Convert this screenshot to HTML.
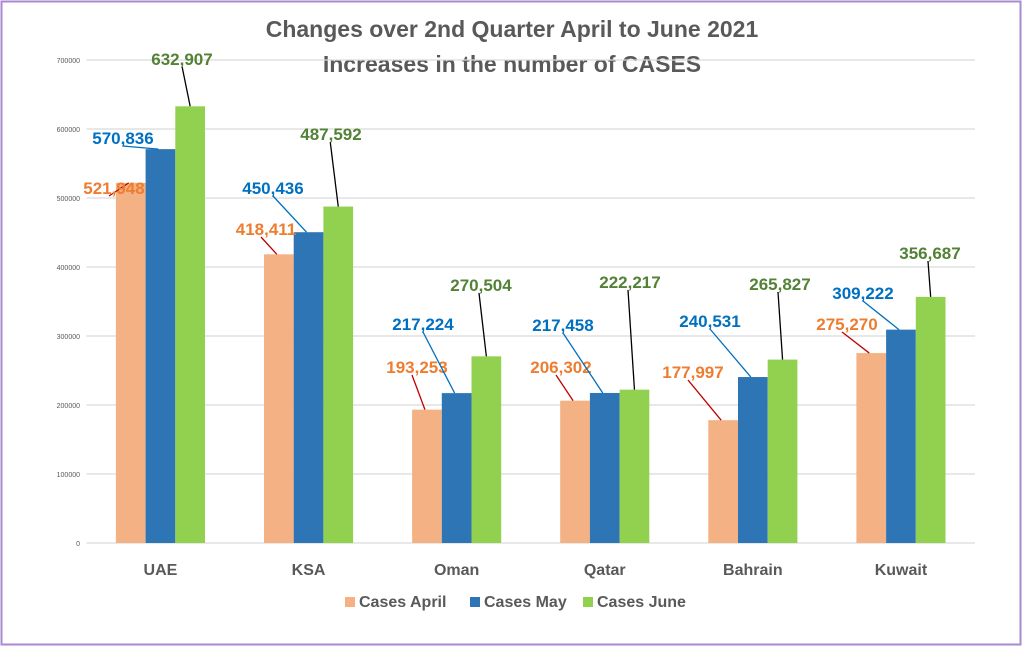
<!DOCTYPE html>
<html><head><meta charset="utf-8"><style>
body{margin:0;background:#fff;}
svg{display:block;font-family:"Liberation Sans",sans-serif;}
</style></head><body>
<svg id="chart" width="1024" height="649" viewBox="0 0 1024 649">
<rect x="1.5" y="1.5" width="1019" height="643" fill="#fff" stroke="#a989cf" stroke-width="2"/>
<text x="512" y="37" text-anchor="middle" font-size="23" font-weight="bold" fill="#595959">Changes over  2nd Quarter  April to June 2021</text>
<text x="512" y="72" text-anchor="middle" font-size="23" font-weight="bold" fill="#595959">Increases in the number of CASES</text>
<g id="grid"></g><g id="bars"></g><g id="labels"></g>
<g>
<rect x="345" y="597" width="10" height="10" fill="#F4B183"/>
<text x="359" y="607" font-size="16" font-weight="bold" fill="#595959">Cases April</text>
<rect x="470" y="597" width="10" height="10" fill="#2E75B6"/>
<text x="484" y="607" font-size="16" font-weight="bold" fill="#595959">Cases May</text>
<rect x="583" y="597" width="10" height="10" fill="#92D050"/>
<text x="597" y="607" font-size="16" font-weight="bold" fill="#595959">Cases June</text>
</g>
</svg>
<script>
const categories=["UAE","KSA","Oman","Qatar","Bahrain","Kuwait"];
const casesApril=[521948,418411,193253,206302,177997,275270];
const casesMay=[570836,450436,217224,217458,240531,309222];
const casesJune=[632907,487592,270504,222217,265827,356687];
const yTicks=[0,100000,200000,300000,400000,500000,600000,700000];
const labelPos=[
 [[114,187],[123,137],[182,58]],
 [[266,228],[273,187],[331,133]],
 [[417,366],[423,323],[481,284]],
 [[561,366],[563,324],[630,281]],
 [[693,371],[710,320],[780,283]],
 [[847,323],[863,292],[930,252]]
];
const NS="http://www.w3.org/2000/svg";
const L=86.4,R=975,T=60,B=543,yMax=700000;
const y=v=>B-(v/yMax)*(B-T);
const bandW=(R-L)/categories.length, barW=29.7;
const x=(i,s)=>L+bandW*i+(bandW-3*barW)/2+s*barW;
function mk(tag,attrs,parent){const e=document.createElementNS(NS,tag);for(const k in attrs)e.setAttribute(k,attrs[k]);parent.appendChild(e);return e;}
const grid=document.getElementById('grid'),bars=document.getElementById('bars'),labels=document.getElementById('labels');
yTicks.forEach(t=>{
 const ln=mk('line',{x1:L,x2:R,y1:y(t),y2:y(t),stroke:'#d9d9d9','stroke-width':1.3},grid);
 
 
 const tx=mk('text',{x:80,y:y(t)+3,'text-anchor':'end','font-size':7,fill:'#595959'},grid);
 tx.textContent=t;
 
 
});
const series=[casesApril,casesMay,casesJune];
const fills=["#F4B183","#2E75B6","#92D050"];
const tcol=["#ED7D31","#0070C0","#538135"];
const lcol=["#C00000","#0070C0","#000000"];
const sname=["april","may","june"];
categories.forEach((c,i)=>{
 series.forEach((arr,s)=>{
  const v=arr[i];
  const r=mk('rect',{x:x(i,s),y:y(v),width:barW,height:B-y(v),fill:fills[s]},bars);
  
  
  const [lx,ly]=labelPos[i][s];
  const cx=x(i,s)+barW/2, top=y(v);
  const sx = s===2 ? cx-8 : lx + (s===0?0:-2);
  const ln=mk('line',{x1:s===2?Math.max(lx,cx-6)-2:lx+(s===0?-5:0),y1:ly+9,x2:cx-(s===2?0:2),y2:top,stroke:lcol[s],'stroke-width':1.3},labels);
  
  
  const t=mk('text',{x:lx,y:ly+7,'text-anchor':'middle','font-size':17,'font-weight':'bold',fill:tcol[s]},labels);
  t.textContent=v.toLocaleString('en-US');
  
  
 });
 const ct=mk('text',{x:L+bandW*(i+0.5),y:575,'text-anchor':'middle','font-size':16,'font-weight':'bold',fill:'#595959'},bars);
 ct.textContent=c;
 
 
});
</script>
</body></html>
